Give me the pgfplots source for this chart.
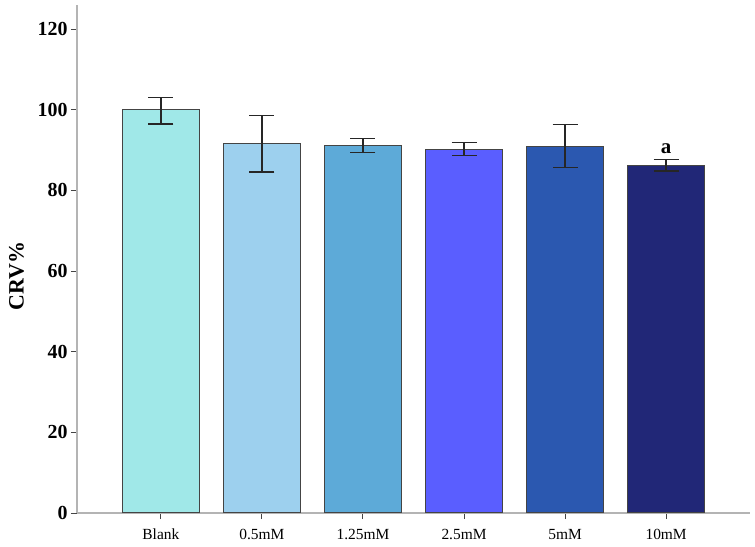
\documentclass[border=0pt]{standalone}
\usepackage{pgfplots}
\pgfplotsset{compat=1.18}
\usepackage{fontspec}
\setmainfont{Liberation Serif}
\definecolor{cA}{HTML}{A0E8E8}
\definecolor{cB}{HTML}{9DD0EE}
\definecolor{cC}{HTML}{5DAAD8}
\definecolor{cD}{HTML}{5A5EFF}
\definecolor{cE}{HTML}{2B58B0}
\definecolor{cF}{HTML}{212777}
\definecolor{axgray}{HTML}{B4B4B4}
\definecolor{edge}{HTML}{444444}
\begin{document}
\begin{tikzpicture}
\path[use as bounding box] (0bp,0bp) rectangle (755bp,547bp);
\begin{axis}[
  at={(77bp,34bp)}, anchor=south west,
  scale only axis, width=673bp, height=508bp,
  xmin=-0.83, xmax=5.83, ymin=0, ymax=126,
  ybar, bar width=77bp, bar shift=0pt,
  axis x line*=bottom, axis y line*=left,
  axis line style={draw=axgray, line width=2bp, -},
  xtick={0,1,2,3,4,5},
  xticklabels={Blank,0.5mM,1.25mM,2.5mM,5mM,10mM},
  ytick={0,20,40,60,80,100,120},
  tick style={draw=edge, line width=1bp},
  tick align=outside, major tick length=6bp,
  x tick label style={font=\fontsize{15.5}{16}\selectfont, text height=11bp, text depth=0bp, anchor=north, yshift=-6bp},
  y tick label style={font=\bfseries\fontsize{20}{21}\selectfont},
  /pgf/number format/assume math mode=true,
  ylabel={CRV\%},
  ylabel style={font=\bfseries\fontsize{22}{23}\selectfont, at={(axis description cs:-0.09,0.467)}, anchor=center},
  error bars/y dir=both, error bars/y explicit,
  error bars/error bar style={draw=black!85, line width=1.3bp},
  error bars/error mark options={rotate=90, draw=black!85, mark size=12.5bp, line width=1.3bp},
]
\addplot[fill=cA, draw=edge, line width=1.2bp] coordinates {(0,100) += (0,3.1) -= (0,3.5)};
\addplot[fill=cB, draw=edge, line width=1.2bp] coordinates {(1,91.6) += (0,7.0) -= (0,7.0)};
\addplot[fill=cC, draw=edge, line width=1.2bp] coordinates {(2,91.2) += (0,1.7) -= (0,1.8)};
\addplot[fill=cD, draw=edge, line width=1.2bp] coordinates {(3,90.2) += (0,1.7) -= (0,1.6)};
\addplot[fill=cE, draw=edge, line width=1.2bp] coordinates {(4,91.0) += (0,5.4) -= (0,5.3)};
\addplot[fill=cF, draw=edge, line width=1.2bp] coordinates {(5,86.2) += (0,1.4) -= (0,1.4)};
\node[anchor=base, font=\bfseries\fontsize{21}{22}\selectfont] at (axis cs:5,89.2) {a};
\end{axis}
\end{tikzpicture}
\end{document}
